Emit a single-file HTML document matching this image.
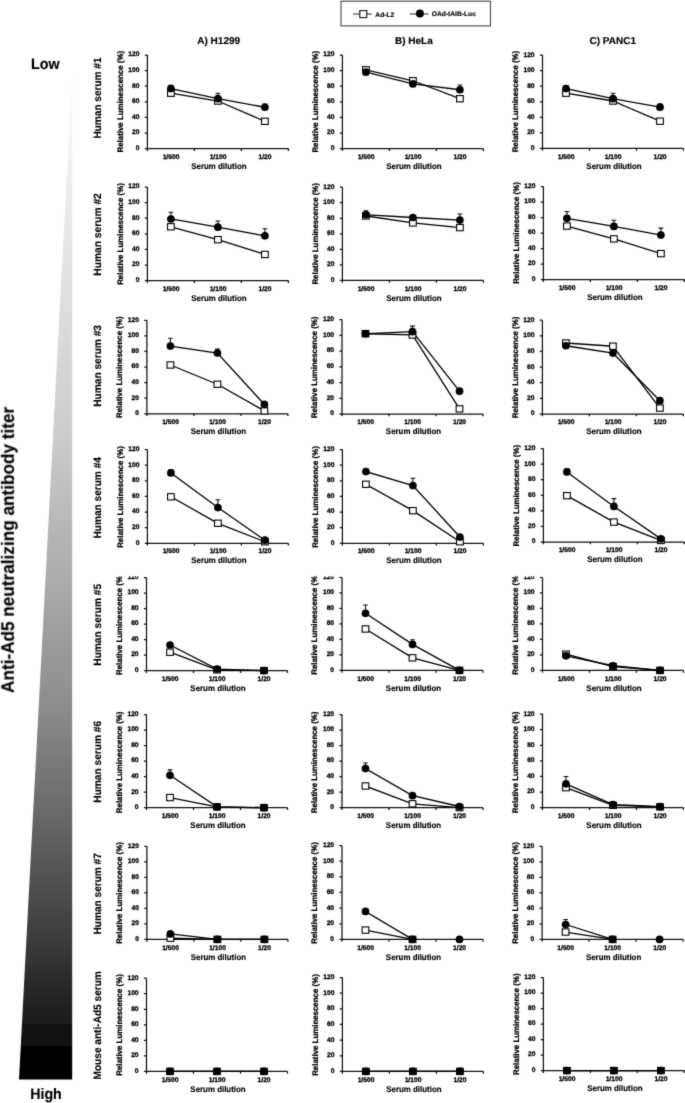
<!DOCTYPE html>
<html><head><meta charset="utf-8"><title>Figure</title>
<style>html,body{margin:0;padding:0;background:#fff;}svg{display:block;}text{text-rendering:geometricPrecision;font-family:"Liberation Sans", sans-serif;fill:#000;stroke:#000;stroke-width:0.15px;}.ax{stroke:#111;stroke-width:1.25;fill:none;}.ln{stroke:#000;stroke-width:1.3;fill:none;}.eb{stroke:#111;stroke-width:1.1;fill:none;}.sq{fill:#fff;stroke:#000;stroke-width:1.1;}.ci{fill:#000;}.tl{font-size:6.7px;font-weight:bold;stroke-width:0.3px;}.xt{font-size:8.3px;font-weight:bold;}.yt{font-size:8.1px;font-weight:bold;stroke-width:0.25px;}.rl{font-size:10.6px;font-weight:bold;}.ct{font-size:10px;font-weight:bold;}.lg{font-size:6.7px;font-weight:bold;}.big{font-size:18px;font-weight:bold;}.lh{font-size:15.2px;font-weight:bold;}</style></head><body>
<svg width="685" height="1103" viewBox="0 0 685 1103">
<filter id="bl" x="0" y="0" width="685" height="1103" filterUnits="userSpaceOnUse" color-interpolation-filters="sRGB"><feConvolveMatrix order="3" kernelMatrix="0.0144 0.0912 0.0144 0.0912 0.5776 0.0912 0.0144 0.0912 0.0144" divisor="1" edgeMode="duplicate" preserveAlpha="true"/></filter>
<g filter="url(#bl)">
<rect width="685" height="1103" fill="#fff"/>
<defs><linearGradient id="gw" gradientUnits="userSpaceOnUse" x1="0" y1="73" x2="0" y2="1079.5">
<stop offset="0.0000" stop-color="rgb(252,252,252)"/>
<stop offset="0.1262" stop-color="rgb(235,235,235)"/>
<stop offset="0.2305" stop-color="rgb(222,222,222)"/>
<stop offset="0.3646" stop-color="rgb(203,203,203)"/>
<stop offset="0.5037" stop-color="rgb(171,171,171)"/>
<stop offset="0.6230" stop-color="rgb(142,142,142)"/>
<stop offset="0.7322" stop-color="rgb(106,106,106)"/>
<stop offset="0.8713" stop-color="rgb(56,56,56)"/>
<stop offset="0.9111" stop-color="rgb(38,38,38)"/>
<stop offset="0.9160" stop-color="rgb(36,36,36)"/>
<stop offset="0.9280" stop-color="rgb(32,32,32)"/>
<stop offset="0.9445" stop-color="rgb(28,28,28)"/>
<stop offset="0.9445" stop-color="rgb(18,18,18)"/>
<stop offset="0.9667" stop-color="rgb(18,18,18)"/>
<stop offset="0.9667" stop-color="rgb(0,0,0)"/>
<stop offset="1.0000" stop-color="rgb(0,0,0)"/>
</linearGradient>
<clipPath id="c5"><rect x="0" y="576.5" width="685" height="200"/></clipPath>
</defs>
<path d="M72.2 73.4L72.2 1079.6L19 1079.6Z" fill="url(#gw)"/>
<text x="30.97" y="68.6" class="lh" textLength="28.52" lengthAdjust="spacingAndGlyphs">Low</text>
<text x="30.18" y="1098.6" class="lh" textLength="31.6" lengthAdjust="spacingAndGlyphs">High</text>
<text x="13.8" y="692.93" class="big" textLength="286.13" lengthAdjust="spacingAndGlyphs" transform="rotate(-90 13.8 692.93)">Anti-Ad5 neutralizing antibody titer</text>
<rect x="341" y="1.2" width="149.4" height="24.7" fill="none" stroke="#333" stroke-width="1"/>
<path d="M353.1 14H371.8M409.8 14H428.4" stroke="#222" stroke-width="1.1"/>
<rect x="359.8" y="10.6" width="7" height="7" fill="#fff" stroke="#111" stroke-width="1.1"/>
<circle cx="419.9" cy="13.6" r="4" fill="#000"/>
<text x="375.3" y="16.9" class="lg">Ad-L2</text>
<text x="431.7" y="16.2" class="lg">OAd-tAIB-Luc</text>
<text x="218.7" y="44.4" class="ct" text-anchor="middle">A) H1299</text>
<text x="413.9" y="44.4" class="ct" text-anchor="middle">B) HeLa</text>
<text x="612.7" y="44.4" class="ct" text-anchor="middle">C) PANC1</text>
<text x="100.9" y="138.55" class="rl" textLength="81.09" lengthAdjust="spacingAndGlyphs" transform="rotate(-90 100.9 138.55)">Human serum #1</text>
<text x="100.9" y="275.67" class="rl" textLength="82.46" lengthAdjust="spacingAndGlyphs" transform="rotate(-90 100.9 275.67)">Human serum #2</text>
<text x="100.9" y="406.76" class="rl" textLength="81.7" lengthAdjust="spacingAndGlyphs" transform="rotate(-90 100.9 406.76)">Human serum #3</text>
<text x="100.9" y="538.56" class="rl" textLength="81.49" lengthAdjust="spacingAndGlyphs" transform="rotate(-90 100.9 538.56)">Human serum #4</text>
<text x="100.9" y="665.66" class="rl" textLength="81.7" lengthAdjust="spacingAndGlyphs" transform="rotate(-90 100.9 665.66)">Human serum #5</text>
<text x="100.9" y="802.66" class="rl" textLength="81.7" lengthAdjust="spacingAndGlyphs" transform="rotate(-90 100.9 802.66)">Human serum #6</text>
<text x="100.9" y="934.46" class="rl" textLength="81.3" lengthAdjust="spacingAndGlyphs" transform="rotate(-90 100.9 934.46)">Human serum #7</text>
<text x="100.9" y="1079.46" class="rl" textLength="108.31" lengthAdjust="spacingAndGlyphs" transform="rotate(-90 100.9 1079.46)">Mouse anti-Ad5 serum</text>
<path d="M147.4 55V148.6H288.4" class="ax"/>
<path d="M144.8 148.6H147.4M144.8 133H147.4M144.8 117.4H147.4M144.8 101.8H147.4M144.8 86.2H147.4M144.8 70.6H147.4M144.8 55H147.4M147.4 148.6V150.9M194.4 148.6V150.9M241.4 148.6V150.9M288.4 148.6V150.9" class="ax"/>
<text x="139.5" y="150" class="tl" text-anchor="end">0</text>
<text x="139.5" y="134.4" class="tl" text-anchor="end">20</text>
<text x="139.5" y="118.8" class="tl" text-anchor="end">40</text>
<text x="139.5" y="103.2" class="tl" text-anchor="end">60</text>
<text x="139.5" y="87.6" class="tl" text-anchor="end">80</text>
<text x="139.5" y="72" class="tl" text-anchor="end">100</text>
<text x="139.5" y="56.4" class="tl" text-anchor="end">120</text>
<text x="171" y="158.7" class="tl" text-anchor="middle">1/500</text>
<text x="218" y="158.7" class="tl" text-anchor="middle">1/100</text>
<text x="265" y="158.7" class="tl" text-anchor="middle">1/20</text>
<text x="191.26" y="168.7" class="xt" textLength="55.31" lengthAdjust="spacingAndGlyphs">Serum dilution</text>
<text x="122.9" y="152.51" class="yt" textLength="101.6" lengthAdjust="spacingAndGlyphs" transform="rotate(-90 122.9 152.51)">Relative Luminescence (%)</text>
<path d="M170.9 88.54V85.42M168.5 85.42H173.3" class="eb"/>
<path d="M217.9 98.68V93.22M215.5 93.22H220.3" class="eb"/>
<path d="M264.9 107.26V104.14M262.5 104.14H267.3" class="eb"/>
<path d="M170.9 93.22L217.9 101.02L264.9 121.3" class="ln"/>
<path d="M170.9 88.54L217.9 98.68L264.9 107.26" class="ln"/>
<rect x="167.55" y="90.07" width="6.7" height="6.3" class="sq"/>
<rect x="214.55" y="97.87" width="6.7" height="6.3" class="sq"/>
<rect x="261.55" y="118.15" width="6.7" height="6.3" class="sq"/>
<circle cx="170.9" cy="88.54" r="3.85" class="ci"/>
<circle cx="217.9" cy="98.68" r="3.85" class="ci"/>
<circle cx="264.9" cy="107.26" r="3.85" class="ci"/>
<path d="M342.4 55V148.66H483.4" class="ax"/>
<path d="M339.8 148.66H342.4M339.8 133.05H342.4M339.8 117.44H342.4M339.8 101.83H342.4M339.8 86.22H342.4M339.8 70.61H342.4M339.8 55H342.4M342.4 148.66V150.96M389.4 148.66V150.96M436.4 148.66V150.96M483.4 148.66V150.96" class="ax"/>
<text x="334.5" y="150.06" class="tl" text-anchor="end">0</text>
<text x="334.5" y="134.45" class="tl" text-anchor="end">20</text>
<text x="334.5" y="118.84" class="tl" text-anchor="end">40</text>
<text x="334.5" y="103.23" class="tl" text-anchor="end">60</text>
<text x="334.5" y="87.62" class="tl" text-anchor="end">80</text>
<text x="334.5" y="72.01" class="tl" text-anchor="end">100</text>
<text x="334.5" y="56.4" class="tl" text-anchor="end">120</text>
<text x="366" y="158.76" class="tl" text-anchor="middle">1/500</text>
<text x="413" y="158.76" class="tl" text-anchor="middle">1/100</text>
<text x="460" y="158.76" class="tl" text-anchor="middle">1/20</text>
<text x="386.26" y="168.76" class="xt" textLength="55.31" lengthAdjust="spacingAndGlyphs">Serum dilution</text>
<text x="317.9" y="152.57" class="yt" textLength="101.6" lengthAdjust="spacingAndGlyphs" transform="rotate(-90 317.9 152.57)">Relative Luminescence (%)</text>
<path d="M459.9 89.73V85.05M457.5 85.05H462.3" class="eb"/>
<path d="M365.9 69.83L412.9 80.76L459.9 98.71" class="ln"/>
<path d="M365.9 72.17L412.9 83.88L459.9 89.73" class="ln"/>
<rect x="362.55" y="66.68" width="6.7" height="6.3" class="sq"/>
<rect x="409.55" y="77.61" width="6.7" height="6.3" class="sq"/>
<rect x="456.55" y="95.56" width="6.7" height="6.3" class="sq"/>
<circle cx="365.9" cy="72.17" r="3.85" class="ci"/>
<circle cx="412.9" cy="83.88" r="3.85" class="ci"/>
<circle cx="459.9" cy="89.73" r="3.85" class="ci"/>
<path d="M542.5 55.1V148.45H683.5" class="ax"/>
<path d="M539.9 148.45H542.5M539.9 132.89H542.5M539.9 117.33H542.5M539.9 101.77H542.5M539.9 86.22H542.5M539.9 70.66H542.5M539.9 55.1H542.5M542.5 148.45V150.75M589.5 148.45V150.75M636.5 148.45V150.75M683.5 148.45V150.75" class="ax"/>
<text x="534.6" y="149.85" class="tl" text-anchor="end">0</text>
<text x="534.6" y="134.29" class="tl" text-anchor="end">20</text>
<text x="534.6" y="118.73" class="tl" text-anchor="end">40</text>
<text x="534.6" y="103.17" class="tl" text-anchor="end">60</text>
<text x="534.6" y="87.62" class="tl" text-anchor="end">80</text>
<text x="534.6" y="72.06" class="tl" text-anchor="end">100</text>
<text x="534.6" y="56.5" class="tl" text-anchor="end">120</text>
<text x="566.1" y="158.55" class="tl" text-anchor="middle">1/500</text>
<text x="613.1" y="158.55" class="tl" text-anchor="middle">1/100</text>
<text x="660.1" y="158.55" class="tl" text-anchor="middle">1/20</text>
<text x="586.36" y="168.55" class="xt" textLength="55.31" lengthAdjust="spacingAndGlyphs">Serum dilution</text>
<text x="518" y="152.36" class="yt" textLength="101.6" lengthAdjust="spacingAndGlyphs" transform="rotate(-90 518 152.36)">Relative Luminescence (%)</text>
<path d="M566 88.55V85.44M563.6 85.44H568.4" class="eb"/>
<path d="M613 98.66V93.22M610.6 93.22H615.4" class="eb"/>
<path d="M660 107.22V104.11M657.6 104.11H662.4" class="eb"/>
<path d="M566 93.22L613 101L660 121.22" class="ln"/>
<path d="M566 88.55L613 98.66L660 107.22" class="ln"/>
<rect x="562.65" y="90.07" width="6.7" height="6.3" class="sq"/>
<rect x="609.65" y="97.85" width="6.7" height="6.3" class="sq"/>
<rect x="656.65" y="118.07" width="6.7" height="6.3" class="sq"/>
<circle cx="566" cy="88.55" r="3.85" class="ci"/>
<circle cx="613" cy="98.66" r="3.85" class="ci"/>
<circle cx="660" cy="107.22" r="3.85" class="ci"/>
<path d="M147.4 187V280.6H288.4" class="ax"/>
<path d="M144.8 280.6H147.4M144.8 265H147.4M144.8 249.4H147.4M144.8 233.8H147.4M144.8 218.2H147.4M144.8 202.6H147.4M144.8 187H147.4M147.4 280.6V282.9M194.4 280.6V282.9M241.4 280.6V282.9M288.4 280.6V282.9" class="ax"/>
<text x="139.5" y="282" class="tl" text-anchor="end">0</text>
<text x="139.5" y="266.4" class="tl" text-anchor="end">20</text>
<text x="139.5" y="250.8" class="tl" text-anchor="end">40</text>
<text x="139.5" y="235.2" class="tl" text-anchor="end">60</text>
<text x="139.5" y="219.6" class="tl" text-anchor="end">80</text>
<text x="139.5" y="204" class="tl" text-anchor="end">100</text>
<text x="139.5" y="188.4" class="tl" text-anchor="end">120</text>
<text x="171" y="290.7" class="tl" text-anchor="middle">1/500</text>
<text x="218" y="290.7" class="tl" text-anchor="middle">1/100</text>
<text x="265" y="290.7" class="tl" text-anchor="middle">1/20</text>
<text x="191.26" y="300.7" class="xt" textLength="55.31" lengthAdjust="spacingAndGlyphs">Serum dilution</text>
<text x="122.9" y="284.81" class="yt" textLength="101.6" lengthAdjust="spacingAndGlyphs" transform="rotate(-90 122.9 284.81)">Relative Luminescence (%)</text>
<path d="M170.9 218.98V212.19M168.5 212.19H173.3" class="eb"/>
<path d="M217.9 227.17V220.93M215.5 220.93H220.3" class="eb"/>
<path d="M264.9 235.83V228.81M262.5 228.81H267.3" class="eb"/>
<path d="M170.9 226.78L217.9 239.65L264.9 254.47" class="ln"/>
<path d="M170.9 218.98L217.9 227.17L264.9 235.83" class="ln"/>
<rect x="167.55" y="223.63" width="6.7" height="6.3" class="sq"/>
<rect x="214.55" y="236.5" width="6.7" height="6.3" class="sq"/>
<rect x="261.55" y="251.32" width="6.7" height="6.3" class="sq"/>
<circle cx="170.9" cy="218.98" r="3.85" class="ci"/>
<circle cx="217.9" cy="227.17" r="3.85" class="ci"/>
<circle cx="264.9" cy="235.83" r="3.85" class="ci"/>
<path d="M342.4 187.2V280.4H483.4" class="ax"/>
<path d="M339.8 280.4H342.4M339.8 264.87H342.4M339.8 249.33H342.4M339.8 233.8H342.4M339.8 218.27H342.4M339.8 202.73H342.4M339.8 187.2H342.4M342.4 280.4V282.7M389.4 280.4V282.7M436.4 280.4V282.7M483.4 280.4V282.7" class="ax"/>
<text x="334.5" y="281.8" class="tl" text-anchor="end">0</text>
<text x="334.5" y="266.27" class="tl" text-anchor="end">20</text>
<text x="334.5" y="250.73" class="tl" text-anchor="end">40</text>
<text x="334.5" y="235.2" class="tl" text-anchor="end">60</text>
<text x="334.5" y="219.67" class="tl" text-anchor="end">80</text>
<text x="334.5" y="204.13" class="tl" text-anchor="end">100</text>
<text x="334.5" y="188.6" class="tl" text-anchor="end">120</text>
<text x="366" y="290.5" class="tl" text-anchor="middle">1/500</text>
<text x="413" y="290.5" class="tl" text-anchor="middle">1/100</text>
<text x="460" y="290.5" class="tl" text-anchor="middle">1/20</text>
<text x="386.26" y="300.5" class="xt" textLength="55.31" lengthAdjust="spacingAndGlyphs">Serum dilution</text>
<text x="317.9" y="284.61" class="yt" textLength="101.6" lengthAdjust="spacingAndGlyphs" transform="rotate(-90 317.9 284.61)">Relative Luminescence (%)</text>
<path d="M365.9 214.77V210.89M363.5 210.89H368.3" class="eb"/>
<path d="M459.9 220.05V214.07M457.5 214.07H462.3" class="eb"/>
<path d="M365.9 215.94L412.9 222.93L459.9 227.59" class="ln"/>
<path d="M365.9 214.77L412.9 217.49L459.9 220.05" class="ln"/>
<rect x="362.55" y="212.79" width="6.7" height="6.3" class="sq"/>
<rect x="409.55" y="219.78" width="6.7" height="6.3" class="sq"/>
<rect x="456.55" y="224.44" width="6.7" height="6.3" class="sq"/>
<circle cx="365.9" cy="214.77" r="3.85" class="ci"/>
<circle cx="412.9" cy="217.49" r="3.85" class="ci"/>
<circle cx="459.9" cy="220.05" r="3.85" class="ci"/>
<path d="M543.4 186.5V279.6H684.4" class="ax"/>
<path d="M540.8 279.6H543.4M540.8 264.08H543.4M540.8 248.57H543.4M540.8 233.05H543.4M540.8 217.53H543.4M540.8 202.02H543.4M540.8 186.5H543.4M543.4 279.6V281.9M590.4 279.6V281.9M637.4 279.6V281.9M684.4 279.6V281.9" class="ax"/>
<text x="535.5" y="281" class="tl" text-anchor="end">0</text>
<text x="535.5" y="265.48" class="tl" text-anchor="end">20</text>
<text x="535.5" y="249.97" class="tl" text-anchor="end">40</text>
<text x="535.5" y="234.45" class="tl" text-anchor="end">60</text>
<text x="535.5" y="218.93" class="tl" text-anchor="end">80</text>
<text x="535.5" y="203.42" class="tl" text-anchor="end">100</text>
<text x="535.5" y="187.9" class="tl" text-anchor="end">120</text>
<text x="567" y="289.7" class="tl" text-anchor="middle">1/500</text>
<text x="614" y="289.7" class="tl" text-anchor="middle">1/100</text>
<text x="661" y="289.7" class="tl" text-anchor="middle">1/20</text>
<text x="587.26" y="299.7" class="xt" textLength="55.31" lengthAdjust="spacingAndGlyphs">Serum dilution</text>
<text x="518.9" y="283.81" class="yt" textLength="101.6" lengthAdjust="spacingAndGlyphs" transform="rotate(-90 518.9 283.81)">Relative Luminescence (%)</text>
<path d="M566.9 218.31V211.56M564.5 211.56H569.3" class="eb"/>
<path d="M613.9 226.46V220.25M611.5 220.25H616.3" class="eb"/>
<path d="M660.9 235.07V228.08M658.5 228.08H663.3" class="eb"/>
<path d="M566.9 226.07L613.9 238.87L660.9 253.61" class="ln"/>
<path d="M566.9 218.31L613.9 226.46L660.9 235.07" class="ln"/>
<rect x="563.55" y="222.92" width="6.7" height="6.3" class="sq"/>
<rect x="610.55" y="235.72" width="6.7" height="6.3" class="sq"/>
<rect x="657.55" y="250.46" width="6.7" height="6.3" class="sq"/>
<circle cx="566.9" cy="218.31" r="3.85" class="ci"/>
<circle cx="613.9" cy="226.46" r="3.85" class="ci"/>
<circle cx="660.9" cy="235.07" r="3.85" class="ci"/>
<path d="M146.9 320.25V413.8H287.9" class="ax"/>
<path d="M144.3 413.8H146.9M144.3 398.21H146.9M144.3 382.62H146.9M144.3 367.02H146.9M144.3 351.43H146.9M144.3 335.84H146.9M144.3 320.25H146.9M146.9 413.8V416.1M193.9 413.8V416.1M240.9 413.8V416.1M287.9 413.8V416.1" class="ax"/>
<text x="139" y="415.2" class="tl" text-anchor="end">0</text>
<text x="139" y="399.61" class="tl" text-anchor="end">20</text>
<text x="139" y="384.02" class="tl" text-anchor="end">40</text>
<text x="139" y="368.42" class="tl" text-anchor="end">60</text>
<text x="139" y="352.83" class="tl" text-anchor="end">80</text>
<text x="139" y="337.24" class="tl" text-anchor="end">100</text>
<text x="139" y="321.65" class="tl" text-anchor="end">120</text>
<text x="170.5" y="423.9" class="tl" text-anchor="middle">1/500</text>
<text x="217.5" y="423.9" class="tl" text-anchor="middle">1/100</text>
<text x="264.5" y="423.9" class="tl" text-anchor="middle">1/20</text>
<text x="190.76" y="433.9" class="xt" textLength="55.31" lengthAdjust="spacingAndGlyphs">Serum dilution</text>
<text x="122.4" y="418.01" class="yt" textLength="101.6" lengthAdjust="spacingAndGlyphs" transform="rotate(-90 122.4 418.01)">Relative Luminescence (%)</text>
<path d="M170.4 346.05V338.26M168 338.26H172.8" class="eb"/>
<path d="M217.4 352.99V349.09M215 349.09H219.8" class="eb"/>
<path d="M264.4 404.44V402.11M262 402.11H266.8" class="eb"/>
<path d="M170.4 365L217.4 384.25L264.4 410.92" class="ln"/>
<path d="M170.4 346.05L217.4 352.99L264.4 404.44" class="ln"/>
<rect x="167.05" y="361.85" width="6.7" height="6.3" class="sq"/>
<rect x="214.05" y="381.1" width="6.7" height="6.3" class="sq"/>
<rect x="261.05" y="407.77" width="6.7" height="6.3" class="sq"/>
<circle cx="170.4" cy="346.05" r="3.85" class="ci"/>
<circle cx="217.4" cy="352.99" r="3.85" class="ci"/>
<circle cx="264.4" cy="404.44" r="3.85" class="ci"/>
<path d="M342 319.5V414H483" class="ax"/>
<path d="M339.4 414H342M339.4 398.25H342M339.4 382.5H342M339.4 366.75H342M339.4 351H342M339.4 335.25H342M339.4 319.5H342M342 414V416.3M389 414V416.3M436 414V416.3M483 414V416.3" class="ax"/>
<text x="334.1" y="415.4" class="tl" text-anchor="end">0</text>
<text x="334.1" y="399.65" class="tl" text-anchor="end">20</text>
<text x="334.1" y="383.9" class="tl" text-anchor="end">40</text>
<text x="334.1" y="368.15" class="tl" text-anchor="end">60</text>
<text x="334.1" y="352.4" class="tl" text-anchor="end">80</text>
<text x="334.1" y="336.65" class="tl" text-anchor="end">100</text>
<text x="334.1" y="320.9" class="tl" text-anchor="end">120</text>
<text x="365.6" y="424.1" class="tl" text-anchor="middle">1/500</text>
<text x="412.6" y="424.1" class="tl" text-anchor="middle">1/100</text>
<text x="459.6" y="424.1" class="tl" text-anchor="middle">1/20</text>
<text x="385.86" y="434.1" class="xt" textLength="55.31" lengthAdjust="spacingAndGlyphs">Serum dilution</text>
<text x="317.5" y="418.21" class="yt" textLength="101.6" lengthAdjust="spacingAndGlyphs" transform="rotate(-90 317.5 418.21)">Relative Luminescence (%)</text>
<path d="M412.5 331.63V326.12M410.1 326.12H414.9" class="eb"/>
<path d="M365.5 333.68L412.5 334.94L459.5 408.88" class="ln"/>
<path d="M365.5 333.68L412.5 331.63L459.5 391.16" class="ln"/>
<rect x="362.15" y="330.53" width="6.7" height="6.3" class="sq"/>
<rect x="409.15" y="331.79" width="6.7" height="6.3" class="sq"/>
<rect x="456.15" y="405.73" width="6.7" height="6.3" class="sq"/>
<circle cx="365.5" cy="333.68" r="3.85" class="ci"/>
<circle cx="412.5" cy="331.63" r="3.85" class="ci"/>
<circle cx="459.5" cy="391.16" r="3.85" class="ci"/>
<path d="M542.4 320.2V414H683.4" class="ax"/>
<path d="M539.8 414H542.4M539.8 398.37H542.4M539.8 382.73H542.4M539.8 367.1H542.4M539.8 351.47H542.4M539.8 335.83H542.4M539.8 320.2H542.4M542.4 414V416.3M589.4 414V416.3M636.4 414V416.3M683.4 414V416.3" class="ax"/>
<text x="534.5" y="415.4" class="tl" text-anchor="end">0</text>
<text x="534.5" y="399.77" class="tl" text-anchor="end">20</text>
<text x="534.5" y="384.13" class="tl" text-anchor="end">40</text>
<text x="534.5" y="368.5" class="tl" text-anchor="end">60</text>
<text x="534.5" y="352.87" class="tl" text-anchor="end">80</text>
<text x="534.5" y="337.23" class="tl" text-anchor="end">100</text>
<text x="534.5" y="321.6" class="tl" text-anchor="end">120</text>
<text x="566" y="424.1" class="tl" text-anchor="middle">1/500</text>
<text x="613" y="424.1" class="tl" text-anchor="middle">1/100</text>
<text x="660" y="424.1" class="tl" text-anchor="middle">1/20</text>
<text x="586.26" y="434.1" class="xt" textLength="55.31" lengthAdjust="spacingAndGlyphs">Serum dilution</text>
<text x="517.9" y="418.21" class="yt" textLength="101.6" lengthAdjust="spacingAndGlyphs" transform="rotate(-90 517.9 418.21)">Relative Luminescence (%)</text>
<path d="M565.9 343.02L612.9 346.23L659.9 408.06" class="ln"/>
<path d="M565.9 345.76L612.9 353.03L659.9 400.71" class="ln"/>
<rect x="562.55" y="339.87" width="6.7" height="6.3" class="sq"/>
<rect x="609.55" y="343.08" width="6.7" height="6.3" class="sq"/>
<rect x="656.55" y="404.91" width="6.7" height="6.3" class="sq"/>
<circle cx="565.9" cy="345.76" r="3.85" class="ci"/>
<circle cx="612.9" cy="353.03" r="3.85" class="ci"/>
<circle cx="659.9" cy="400.71" r="3.85" class="ci"/>
<path d="M147.4 449.5V543.3H288.4" class="ax"/>
<path d="M144.8 543.3H147.4M144.8 527.67H147.4M144.8 512.03H147.4M144.8 496.4H147.4M144.8 480.77H147.4M144.8 465.13H147.4M144.8 449.5H147.4M147.4 543.3V545.6M194.4 543.3V545.6M241.4 543.3V545.6M288.4 543.3V545.6" class="ax"/>
<text x="139.5" y="544.7" class="tl" text-anchor="end">0</text>
<text x="139.5" y="529.07" class="tl" text-anchor="end">20</text>
<text x="139.5" y="513.43" class="tl" text-anchor="end">40</text>
<text x="139.5" y="497.8" class="tl" text-anchor="end">60</text>
<text x="139.5" y="482.17" class="tl" text-anchor="end">80</text>
<text x="139.5" y="466.53" class="tl" text-anchor="end">100</text>
<text x="139.5" y="450.9" class="tl" text-anchor="end">120</text>
<text x="171" y="553.4" class="tl" text-anchor="middle">1/500</text>
<text x="218" y="553.4" class="tl" text-anchor="middle">1/100</text>
<text x="265" y="553.4" class="tl" text-anchor="middle">1/20</text>
<text x="191.26" y="563.4" class="xt" textLength="55.31" lengthAdjust="spacingAndGlyphs">Serum dilution</text>
<text x="122.9" y="547.81" class="yt" textLength="101.6" lengthAdjust="spacingAndGlyphs" transform="rotate(-90 122.9 547.81)">Relative Luminescence (%)</text>
<path d="M170.9 472.95V469.82M168.5 469.82H173.3" class="eb"/>
<path d="M217.9 507.58V499.76M215.5 499.76H220.3" class="eb"/>
<path d="M170.9 496.79L217.9 523.29L264.9 541.74" class="ln"/>
<path d="M170.9 472.95L217.9 507.58L264.9 540.17" class="ln"/>
<rect x="167.55" y="493.64" width="6.7" height="6.3" class="sq"/>
<rect x="214.55" y="520.14" width="6.7" height="6.3" class="sq"/>
<rect x="261.55" y="538.59" width="6.7" height="6.3" class="sq"/>
<circle cx="170.9" cy="472.95" r="3.85" class="ci"/>
<circle cx="217.9" cy="507.58" r="3.85" class="ci"/>
<circle cx="264.9" cy="540.17" r="3.85" class="ci"/>
<path d="M342.4 449.6V543.3H483.4" class="ax"/>
<path d="M339.8 543.3H342.4M339.8 527.68H342.4M339.8 512.07H342.4M339.8 496.45H342.4M339.8 480.83H342.4M339.8 465.22H342.4M339.8 449.6H342.4M342.4 543.3V545.6M389.4 543.3V545.6M436.4 543.3V545.6M483.4 543.3V545.6" class="ax"/>
<text x="334.5" y="544.7" class="tl" text-anchor="end">0</text>
<text x="334.5" y="529.08" class="tl" text-anchor="end">20</text>
<text x="334.5" y="513.47" class="tl" text-anchor="end">40</text>
<text x="334.5" y="497.85" class="tl" text-anchor="end">60</text>
<text x="334.5" y="482.23" class="tl" text-anchor="end">80</text>
<text x="334.5" y="466.62" class="tl" text-anchor="end">100</text>
<text x="334.5" y="451" class="tl" text-anchor="end">120</text>
<text x="366" y="553.4" class="tl" text-anchor="middle">1/500</text>
<text x="413" y="553.4" class="tl" text-anchor="middle">1/100</text>
<text x="460" y="553.4" class="tl" text-anchor="middle">1/20</text>
<text x="386.26" y="563.4" class="xt" textLength="55.31" lengthAdjust="spacingAndGlyphs">Serum dilution</text>
<text x="317.9" y="547.81" class="yt" textLength="101.6" lengthAdjust="spacingAndGlyphs" transform="rotate(-90 317.9 547.81)">Relative Luminescence (%)</text>
<path d="M412.9 485.6V478.18M410.5 478.18H415.3" class="eb"/>
<path d="M459.9 537.05V535.49M457.5 535.49H462.3" class="eb"/>
<path d="M365.9 484.27L412.9 510.66L459.9 541.74" class="ln"/>
<path d="M365.9 471.62L412.9 485.6L459.9 537.05" class="ln"/>
<rect x="362.55" y="481.12" width="6.7" height="6.3" class="sq"/>
<rect x="409.55" y="507.51" width="6.7" height="6.3" class="sq"/>
<rect x="456.55" y="538.59" width="6.7" height="6.3" class="sq"/>
<circle cx="365.9" cy="471.62" r="3.85" class="ci"/>
<circle cx="412.9" cy="485.6" r="3.85" class="ci"/>
<circle cx="459.9" cy="537.05" r="3.85" class="ci"/>
<path d="M543.4 448.6V542H684.4" class="ax"/>
<path d="M540.8 542H543.4M540.8 526.43H543.4M540.8 510.87H543.4M540.8 495.3H543.4M540.8 479.73H543.4M540.8 464.17H543.4M540.8 448.6H543.4M543.4 542V544.3M590.4 542V544.3M637.4 542V544.3M684.4 542V544.3" class="ax"/>
<text x="535.5" y="543.4" class="tl" text-anchor="end">0</text>
<text x="535.5" y="527.83" class="tl" text-anchor="end">20</text>
<text x="535.5" y="512.27" class="tl" text-anchor="end">40</text>
<text x="535.5" y="496.7" class="tl" text-anchor="end">60</text>
<text x="535.5" y="481.13" class="tl" text-anchor="end">80</text>
<text x="535.5" y="465.57" class="tl" text-anchor="end">100</text>
<text x="535.5" y="450" class="tl" text-anchor="end">120</text>
<text x="567" y="552.1" class="tl" text-anchor="middle">1/500</text>
<text x="614" y="552.1" class="tl" text-anchor="middle">1/100</text>
<text x="661" y="552.1" class="tl" text-anchor="middle">1/20</text>
<text x="587.26" y="562.1" class="xt" textLength="55.31" lengthAdjust="spacingAndGlyphs">Serum dilution</text>
<text x="518.9" y="546.51" class="yt" textLength="101.6" lengthAdjust="spacingAndGlyphs" transform="rotate(-90 518.9 546.51)">Relative Luminescence (%)</text>
<path d="M566.9 471.95V468.84M564.5 468.84H569.3" class="eb"/>
<path d="M613.9 506.43V498.65M611.5 498.65H616.3" class="eb"/>
<path d="M566.9 495.69L613.9 522.07L660.9 540.44" class="ln"/>
<path d="M566.9 471.95L613.9 506.43L660.9 538.89" class="ln"/>
<rect x="563.55" y="492.54" width="6.7" height="6.3" class="sq"/>
<rect x="610.55" y="518.92" width="6.7" height="6.3" class="sq"/>
<rect x="657.55" y="537.29" width="6.7" height="6.3" class="sq"/>
<circle cx="566.9" cy="471.95" r="3.85" class="ci"/>
<circle cx="613.9" cy="506.43" r="3.85" class="ci"/>
<circle cx="660.9" cy="538.89" r="3.85" class="ci"/>
<g clip-path="url(#c5)">
<path d="M146.5 577.5V670.6H287.5" class="ax"/>
<path d="M143.9 670.6H146.5M143.9 655.08H146.5M143.9 639.57H146.5M143.9 624.05H146.5M143.9 608.53H146.5M143.9 593.02H146.5M143.9 577.5H146.5M146.5 670.6V672.9M193.5 670.6V672.9M240.5 670.6V672.9M287.5 670.6V672.9" class="ax"/>
<text x="138.6" y="672" class="tl" text-anchor="end">0</text>
<text x="138.6" y="656.48" class="tl" text-anchor="end">20</text>
<text x="138.6" y="640.97" class="tl" text-anchor="end">40</text>
<text x="138.6" y="625.45" class="tl" text-anchor="end">60</text>
<text x="138.6" y="609.93" class="tl" text-anchor="end">80</text>
<text x="138.6" y="594.42" class="tl" text-anchor="end">100</text>
<text x="138.6" y="578.9" class="tl" text-anchor="end">120</text>
<text x="170.1" y="680.7" class="tl" text-anchor="middle">1/500</text>
<text x="217.1" y="680.7" class="tl" text-anchor="middle">1/100</text>
<text x="264.1" y="680.7" class="tl" text-anchor="middle">1/20</text>
<text x="190.36" y="690.7" class="xt" textLength="55.31" lengthAdjust="spacingAndGlyphs">Serum dilution</text>
<text x="122" y="675.01" class="yt" textLength="101.6" lengthAdjust="spacingAndGlyphs" transform="rotate(-90 122 675.01)">Relative Luminescence (%)</text>
<path d="M170 652.21L217 669.82L264 670.6" class="ln"/>
<path d="M170 645L217 669.05L264 670.6" class="ln"/>
<rect x="166.65" y="649.06" width="6.7" height="6.3" class="sq"/>
<rect x="213.65" y="666.67" width="6.7" height="6.3" class="sq"/>
<rect x="260.65" y="667.45" width="6.7" height="6.3" class="sq"/>
<circle cx="170" cy="645" r="3.85" class="ci"/>
<circle cx="217" cy="669.05" r="3.85" class="ci"/>
<circle cx="264" cy="670.6" r="3.85" class="ci"/>
<path d="M342 577.3V670.4H483" class="ax"/>
<path d="M339.4 670.4H342M339.4 654.88H342M339.4 639.37H342M339.4 623.85H342M339.4 608.33H342M339.4 592.82H342M339.4 577.3H342M342 670.4V672.7M389 670.4V672.7M436 670.4V672.7M483 670.4V672.7" class="ax"/>
<text x="334.1" y="671.8" class="tl" text-anchor="end">0</text>
<text x="334.1" y="656.28" class="tl" text-anchor="end">20</text>
<text x="334.1" y="640.77" class="tl" text-anchor="end">40</text>
<text x="334.1" y="625.25" class="tl" text-anchor="end">60</text>
<text x="334.1" y="609.73" class="tl" text-anchor="end">80</text>
<text x="334.1" y="594.22" class="tl" text-anchor="end">100</text>
<text x="334.1" y="578.7" class="tl" text-anchor="end">120</text>
<text x="365.6" y="680.5" class="tl" text-anchor="middle">1/500</text>
<text x="412.6" y="680.5" class="tl" text-anchor="middle">1/100</text>
<text x="459.6" y="680.5" class="tl" text-anchor="middle">1/20</text>
<text x="385.86" y="690.5" class="xt" textLength="55.31" lengthAdjust="spacingAndGlyphs">Serum dilution</text>
<text x="317.5" y="674.81" class="yt" textLength="101.6" lengthAdjust="spacingAndGlyphs" transform="rotate(-90 317.5 674.81)">Relative Luminescence (%)</text>
<path d="M365.5 613.3V605M363.1 605H367.9" class="eb"/>
<path d="M412.5 644.41V639.75M410.1 639.75H414.9" class="eb"/>
<path d="M365.5 628.97L412.5 657.83L459.5 670.4" class="ln"/>
<path d="M365.5 613.3L412.5 644.41L459.5 670.4" class="ln"/>
<rect x="362.15" y="625.82" width="6.7" height="6.3" class="sq"/>
<rect x="409.15" y="654.68" width="6.7" height="6.3" class="sq"/>
<rect x="456.15" y="667.25" width="6.7" height="6.3" class="sq"/>
<circle cx="365.5" cy="613.3" r="3.85" class="ci"/>
<circle cx="412.5" cy="644.41" r="3.85" class="ci"/>
<circle cx="459.5" cy="670.4" r="3.85" class="ci"/>
<path d="M542.5 577.4V670.4H683.5" class="ax"/>
<path d="M539.9 670.4H542.5M539.9 654.9H542.5M539.9 639.4H542.5M539.9 623.9H542.5M539.9 608.4H542.5M539.9 592.9H542.5M539.9 577.4H542.5M542.5 670.4V672.7M589.5 670.4V672.7M636.5 670.4V672.7M683.5 670.4V672.7" class="ax"/>
<text x="534.6" y="671.8" class="tl" text-anchor="end">0</text>
<text x="534.6" y="656.3" class="tl" text-anchor="end">20</text>
<text x="534.6" y="640.8" class="tl" text-anchor="end">40</text>
<text x="534.6" y="625.3" class="tl" text-anchor="end">60</text>
<text x="534.6" y="609.8" class="tl" text-anchor="end">80</text>
<text x="534.6" y="594.3" class="tl" text-anchor="end">100</text>
<text x="534.6" y="578.8" class="tl" text-anchor="end">120</text>
<text x="566.1" y="680.5" class="tl" text-anchor="middle">1/500</text>
<text x="613.1" y="680.5" class="tl" text-anchor="middle">1/100</text>
<text x="660.1" y="680.5" class="tl" text-anchor="middle">1/20</text>
<text x="586.36" y="690.5" class="xt" textLength="55.31" lengthAdjust="spacingAndGlyphs">Serum dilution</text>
<text x="518" y="674.81" class="yt" textLength="101.6" lengthAdjust="spacingAndGlyphs" transform="rotate(-90 518 674.81)">Relative Luminescence (%)</text>
<path d="M566 654.12L613 666.52L660 670.4" class="ln"/>
<path d="M566 655.83L613 665.75L660 670.4" class="ln"/>
<rect x="562.65" y="650.98" width="6.7" height="6.3" class="sq"/>
<rect x="609.65" y="663.38" width="6.7" height="6.3" class="sq"/>
<rect x="656.65" y="667.25" width="6.7" height="6.3" class="sq"/>
<circle cx="566" cy="655.83" r="3.85" class="ci"/>
<circle cx="613" cy="665.75" r="3.85" class="ci"/>
<circle cx="660" cy="670.4" r="3.85" class="ci"/>
</g>
<path d="M146.5 714.5V807.66H287.5" class="ax"/>
<path d="M143.9 807.66H146.5M143.9 792.13H146.5M143.9 776.61H146.5M143.9 761.08H146.5M143.9 745.55H146.5M143.9 730.03H146.5M143.9 714.5H146.5M146.5 807.66V809.96M193.5 807.66V809.96M240.5 807.66V809.96M287.5 807.66V809.96" class="ax"/>
<text x="138.6" y="809.06" class="tl" text-anchor="end">0</text>
<text x="138.6" y="793.53" class="tl" text-anchor="end">20</text>
<text x="138.6" y="778.01" class="tl" text-anchor="end">40</text>
<text x="138.6" y="762.48" class="tl" text-anchor="end">60</text>
<text x="138.6" y="746.95" class="tl" text-anchor="end">80</text>
<text x="138.6" y="731.43" class="tl" text-anchor="end">100</text>
<text x="138.6" y="715.9" class="tl" text-anchor="end">120</text>
<text x="170.1" y="817.76" class="tl" text-anchor="middle">1/500</text>
<text x="217.1" y="817.76" class="tl" text-anchor="middle">1/100</text>
<text x="264.1" y="817.76" class="tl" text-anchor="middle">1/20</text>
<text x="190.36" y="827.76" class="xt" textLength="55.31" lengthAdjust="spacingAndGlyphs">Serum dilution</text>
<text x="122" y="813.17" class="yt" textLength="101.6" lengthAdjust="spacingAndGlyphs" transform="rotate(-90 122 813.17)">Relative Luminescence (%)</text>
<path d="M170 775.29V769.85M167.6 769.85H172.4" class="eb"/>
<path d="M170 797.57L217 806.88L264 807.66" class="ln"/>
<path d="M170 775.29L217 806.88L264 807.66" class="ln"/>
<rect x="166.65" y="794.42" width="6.7" height="6.3" class="sq"/>
<rect x="213.65" y="803.73" width="6.7" height="6.3" class="sq"/>
<rect x="260.65" y="804.51" width="6.7" height="6.3" class="sq"/>
<circle cx="170" cy="775.29" r="3.85" class="ci"/>
<circle cx="217" cy="806.88" r="3.85" class="ci"/>
<circle cx="264" cy="807.66" r="3.85" class="ci"/>
<path d="M342 714.5V807.66H483" class="ax"/>
<path d="M339.4 807.66H342M339.4 792.13H342M339.4 776.61H342M339.4 761.08H342M339.4 745.55H342M339.4 730.03H342M339.4 714.5H342M342 807.66V809.96M389 807.66V809.96M436 807.66V809.96M483 807.66V809.96" class="ax"/>
<text x="334.1" y="809.06" class="tl" text-anchor="end">0</text>
<text x="334.1" y="793.53" class="tl" text-anchor="end">20</text>
<text x="334.1" y="778.01" class="tl" text-anchor="end">40</text>
<text x="334.1" y="762.48" class="tl" text-anchor="end">60</text>
<text x="334.1" y="746.95" class="tl" text-anchor="end">80</text>
<text x="334.1" y="731.43" class="tl" text-anchor="end">100</text>
<text x="334.1" y="715.9" class="tl" text-anchor="end">120</text>
<text x="365.6" y="817.76" class="tl" text-anchor="middle">1/500</text>
<text x="412.6" y="817.76" class="tl" text-anchor="middle">1/100</text>
<text x="459.6" y="817.76" class="tl" text-anchor="middle">1/20</text>
<text x="385.86" y="827.76" class="xt" textLength="55.31" lengthAdjust="spacingAndGlyphs">Serum dilution</text>
<text x="317.5" y="813.17" class="yt" textLength="101.6" lengthAdjust="spacingAndGlyphs" transform="rotate(-90 317.5 813.17)">Relative Luminescence (%)</text>
<path d="M365.5 768.61V762.94M363.1 762.94H367.9" class="eb"/>
<path d="M365.5 786L412.5 803.78L459.5 807.66" class="ln"/>
<path d="M365.5 768.61L412.5 795.63L459.5 806.5" class="ln"/>
<rect x="362.15" y="782.85" width="6.7" height="6.3" class="sq"/>
<rect x="409.15" y="800.63" width="6.7" height="6.3" class="sq"/>
<rect x="456.15" y="804.51" width="6.7" height="6.3" class="sq"/>
<circle cx="365.5" cy="768.61" r="3.85" class="ci"/>
<circle cx="412.5" cy="795.63" r="3.85" class="ci"/>
<circle cx="459.5" cy="806.5" r="3.85" class="ci"/>
<path d="M542.5 714.1V807.66H683.5" class="ax"/>
<path d="M539.9 807.66H542.5M539.9 792.07H542.5M539.9 776.47H542.5M539.9 760.88H542.5M539.9 745.29H542.5M539.9 729.69H542.5M539.9 714.1H542.5M542.5 807.66V809.96M589.5 807.66V809.96M636.5 807.66V809.96M683.5 807.66V809.96" class="ax"/>
<text x="534.6" y="809.06" class="tl" text-anchor="end">0</text>
<text x="534.6" y="793.47" class="tl" text-anchor="end">20</text>
<text x="534.6" y="777.87" class="tl" text-anchor="end">40</text>
<text x="534.6" y="762.28" class="tl" text-anchor="end">60</text>
<text x="534.6" y="746.69" class="tl" text-anchor="end">80</text>
<text x="534.6" y="731.09" class="tl" text-anchor="end">100</text>
<text x="534.6" y="715.5" class="tl" text-anchor="end">120</text>
<text x="566.1" y="817.76" class="tl" text-anchor="middle">1/500</text>
<text x="613.1" y="817.76" class="tl" text-anchor="middle">1/100</text>
<text x="660.1" y="817.76" class="tl" text-anchor="middle">1/20</text>
<text x="586.36" y="827.76" class="xt" textLength="55.31" lengthAdjust="spacingAndGlyphs">Serum dilution</text>
<text x="518" y="813.17" class="yt" textLength="101.6" lengthAdjust="spacingAndGlyphs" transform="rotate(-90 518 813.17)">Relative Luminescence (%)</text>
<path d="M566 783.8V776.55M563.6 776.55H568.4" class="eb"/>
<path d="M566 787.62L613 805.32L660 806.88" class="ln"/>
<path d="M566 783.8L613 804.54L660 806.65" class="ln"/>
<rect x="562.65" y="784.47" width="6.7" height="6.3" class="sq"/>
<rect x="609.65" y="802.17" width="6.7" height="6.3" class="sq"/>
<rect x="656.65" y="803.73" width="6.7" height="6.3" class="sq"/>
<circle cx="566" cy="783.8" r="3.85" class="ci"/>
<circle cx="613" cy="804.54" r="3.85" class="ci"/>
<circle cx="660" cy="806.65" r="3.85" class="ci"/>
<path d="M146.9 846.25V939.4H287.9" class="ax"/>
<path d="M144.3 939.4H146.9M144.3 923.88H146.9M144.3 908.35H146.9M144.3 892.83H146.9M144.3 877.3H146.9M144.3 861.77H146.9M144.3 846.25H146.9M146.9 939.4V941.7M193.9 939.4V941.7M240.9 939.4V941.7M287.9 939.4V941.7" class="ax"/>
<text x="139" y="940.8" class="tl" text-anchor="end">0</text>
<text x="139" y="925.27" class="tl" text-anchor="end">20</text>
<text x="139" y="909.75" class="tl" text-anchor="end">40</text>
<text x="139" y="894.23" class="tl" text-anchor="end">60</text>
<text x="139" y="878.7" class="tl" text-anchor="end">80</text>
<text x="139" y="863.17" class="tl" text-anchor="end">100</text>
<text x="139" y="847.65" class="tl" text-anchor="end">120</text>
<text x="170.5" y="949.5" class="tl" text-anchor="middle">1/500</text>
<text x="217.5" y="949.5" class="tl" text-anchor="middle">1/100</text>
<text x="264.5" y="949.5" class="tl" text-anchor="middle">1/20</text>
<text x="190.76" y="959.5" class="xt" textLength="55.31" lengthAdjust="spacingAndGlyphs">Serum dilution</text>
<text x="122.4" y="943.81" class="yt" textLength="101.6" lengthAdjust="spacingAndGlyphs" transform="rotate(-90 122.4 943.81)">Relative Luminescence (%)</text>
<path d="M170.4 933.97V932.41M168 932.41H172.8" class="eb"/>
<path d="M170.4 938.24L217.4 939.4L264.4 939.4" class="ln"/>
<path d="M170.4 933.97L217.4 939.4L264.4 939.4" class="ln"/>
<rect x="167.05" y="935.09" width="6.7" height="6.3" class="sq"/>
<rect x="214.05" y="936.25" width="6.7" height="6.3" class="sq"/>
<rect x="261.05" y="936.25" width="6.7" height="6.3" class="sq"/>
<circle cx="170.4" cy="933.97" r="3.85" class="ci"/>
<circle cx="217.4" cy="939.4" r="3.85" class="ci"/>
<circle cx="264.4" cy="939.4" r="3.85" class="ci"/>
<path d="M342 845.5V939.4H483" class="ax"/>
<path d="M339.4 939.4H342M339.4 923.75H342M339.4 908.1H342M339.4 892.45H342M339.4 876.8H342M339.4 861.15H342M339.4 845.5H342M342 939.4V941.7M389 939.4V941.7M436 939.4V941.7M483 939.4V941.7" class="ax"/>
<text x="334.1" y="940.8" class="tl" text-anchor="end">0</text>
<text x="334.1" y="925.15" class="tl" text-anchor="end">20</text>
<text x="334.1" y="909.5" class="tl" text-anchor="end">40</text>
<text x="334.1" y="893.85" class="tl" text-anchor="end">60</text>
<text x="334.1" y="878.2" class="tl" text-anchor="end">80</text>
<text x="334.1" y="862.55" class="tl" text-anchor="end">100</text>
<text x="334.1" y="846.9" class="tl" text-anchor="end">120</text>
<text x="365.6" y="949.5" class="tl" text-anchor="middle">1/500</text>
<text x="412.6" y="949.5" class="tl" text-anchor="middle">1/100</text>
<text x="459.6" y="949.5" class="tl" text-anchor="middle">1/20</text>
<text x="385.86" y="959.5" class="xt" textLength="55.31" lengthAdjust="spacingAndGlyphs">Serum dilution</text>
<text x="317.5" y="943.81" class="yt" textLength="101.6" lengthAdjust="spacingAndGlyphs" transform="rotate(-90 317.5 943.81)">Relative Luminescence (%)</text>
<path d="M365.5 930.09L412.5 939.4" class="ln"/>
<path d="M365.5 911.46L412.5 939.4" class="ln"/>
<rect x="362.15" y="926.94" width="6.7" height="6.3" class="sq"/>
<rect x="409.15" y="936.25" width="6.7" height="6.3" class="sq"/>
<circle cx="365.5" cy="911.46" r="3.85" class="ci"/>
<circle cx="412.5" cy="939.4" r="3.85" class="ci"/>
<circle cx="459.5" cy="939.4" r="3.85" class="ci"/>
<path d="M542.1 846.25V939.4H683.1" class="ax"/>
<path d="M539.5 939.4H542.1M539.5 923.88H542.1M539.5 908.35H542.1M539.5 892.83H542.1M539.5 877.3H542.1M539.5 861.77H542.1M539.5 846.25H542.1M542.1 939.4V941.7M589.1 939.4V941.7M636.1 939.4V941.7M683.1 939.4V941.7" class="ax"/>
<text x="534.2" y="940.8" class="tl" text-anchor="end">0</text>
<text x="534.2" y="925.27" class="tl" text-anchor="end">20</text>
<text x="534.2" y="909.75" class="tl" text-anchor="end">40</text>
<text x="534.2" y="894.23" class="tl" text-anchor="end">60</text>
<text x="534.2" y="878.7" class="tl" text-anchor="end">80</text>
<text x="534.2" y="863.17" class="tl" text-anchor="end">100</text>
<text x="534.2" y="847.65" class="tl" text-anchor="end">120</text>
<text x="565.7" y="949.5" class="tl" text-anchor="middle">1/500</text>
<text x="612.7" y="949.5" class="tl" text-anchor="middle">1/100</text>
<text x="659.7" y="949.5" class="tl" text-anchor="middle">1/20</text>
<text x="585.96" y="959.5" class="xt" textLength="55.31" lengthAdjust="spacingAndGlyphs">Serum dilution</text>
<text x="517.6" y="943.81" class="yt" textLength="101.6" lengthAdjust="spacingAndGlyphs" transform="rotate(-90 517.6 943.81)">Relative Luminescence (%)</text>
<path d="M565.6 924.5V919.45M563.2 919.45H568" class="eb"/>
<path d="M565.6 932.03L612.6 939.4" class="ln"/>
<path d="M565.6 924.5L612.6 939.4" class="ln"/>
<rect x="562.25" y="928.88" width="6.7" height="6.3" class="sq"/>
<rect x="609.25" y="936.25" width="6.7" height="6.3" class="sq"/>
<circle cx="565.6" cy="924.5" r="3.85" class="ci"/>
<circle cx="612.6" cy="939.4" r="3.85" class="ci"/>
<circle cx="659.6" cy="939.4" r="3.85" class="ci"/>
<path d="M146.5 978.2V1071.4H287.5" class="ax"/>
<path d="M143.9 1071.4H146.5M143.9 1055.87H146.5M143.9 1040.33H146.5M143.9 1024.8H146.5M143.9 1009.27H146.5M143.9 993.73H146.5M143.9 978.2H146.5M146.5 1071.4V1073.7M193.5 1071.4V1073.7M240.5 1071.4V1073.7M287.5 1071.4V1073.7" class="ax"/>
<text x="138.6" y="1072.8" class="tl" text-anchor="end">0</text>
<text x="138.6" y="1057.27" class="tl" text-anchor="end">20</text>
<text x="138.6" y="1041.73" class="tl" text-anchor="end">40</text>
<text x="138.6" y="1026.2" class="tl" text-anchor="end">60</text>
<text x="138.6" y="1010.67" class="tl" text-anchor="end">80</text>
<text x="138.6" y="995.13" class="tl" text-anchor="end">100</text>
<text x="138.6" y="979.6" class="tl" text-anchor="end">120</text>
<text x="170.1" y="1081.5" class="tl" text-anchor="middle">1/500</text>
<text x="217.1" y="1081.5" class="tl" text-anchor="middle">1/100</text>
<text x="264.1" y="1081.5" class="tl" text-anchor="middle">1/20</text>
<text x="190.36" y="1091.5" class="xt" textLength="55.31" lengthAdjust="spacingAndGlyphs">Serum dilution</text>
<text x="122" y="1075.81" class="yt" textLength="101.6" lengthAdjust="spacingAndGlyphs" transform="rotate(-90 122 1075.81)">Relative Luminescence (%)</text>
<path d="M170 1071.4L217 1071.4L264 1071.4" class="ln"/>
<path d="M170 1071.4L217 1071.4L264 1071.4" class="ln"/>
<rect x="166.65" y="1068.25" width="6.7" height="6.3" class="sq"/>
<rect x="213.65" y="1068.25" width="6.7" height="6.3" class="sq"/>
<rect x="260.65" y="1068.25" width="6.7" height="6.3" class="sq"/>
<circle cx="170" cy="1071.4" r="3.85" class="ci"/>
<circle cx="217" cy="1071.4" r="3.85" class="ci"/>
<circle cx="264" cy="1071.4" r="3.85" class="ci"/>
<path d="M342.4 977.5V1071.4H483.4" class="ax"/>
<path d="M339.8 1071.4H342.4M339.8 1055.75H342.4M339.8 1040.1H342.4M339.8 1024.45H342.4M339.8 1008.8H342.4M339.8 993.15H342.4M339.8 977.5H342.4M342.4 1071.4V1073.7M389.4 1071.4V1073.7M436.4 1071.4V1073.7M483.4 1071.4V1073.7" class="ax"/>
<text x="334.5" y="1072.8" class="tl" text-anchor="end">0</text>
<text x="334.5" y="1057.15" class="tl" text-anchor="end">20</text>
<text x="334.5" y="1041.5" class="tl" text-anchor="end">40</text>
<text x="334.5" y="1025.85" class="tl" text-anchor="end">60</text>
<text x="334.5" y="1010.2" class="tl" text-anchor="end">80</text>
<text x="334.5" y="994.55" class="tl" text-anchor="end">100</text>
<text x="334.5" y="978.9" class="tl" text-anchor="end">120</text>
<text x="366" y="1081.5" class="tl" text-anchor="middle">1/500</text>
<text x="413" y="1081.5" class="tl" text-anchor="middle">1/100</text>
<text x="460" y="1081.5" class="tl" text-anchor="middle">1/20</text>
<text x="386.26" y="1091.5" class="xt" textLength="55.31" lengthAdjust="spacingAndGlyphs">Serum dilution</text>
<text x="317.9" y="1075.81" class="yt" textLength="101.6" lengthAdjust="spacingAndGlyphs" transform="rotate(-90 317.9 1075.81)">Relative Luminescence (%)</text>
<path d="M365.9 1071.4L412.9 1071.4L459.9 1071.4" class="ln"/>
<path d="M365.9 1071.4L412.9 1071.4L459.9 1071.4" class="ln"/>
<rect x="362.55" y="1068.25" width="6.7" height="6.3" class="sq"/>
<rect x="409.55" y="1068.25" width="6.7" height="6.3" class="sq"/>
<rect x="456.55" y="1068.25" width="6.7" height="6.3" class="sq"/>
<circle cx="365.9" cy="1071.4" r="3.85" class="ci"/>
<circle cx="412.9" cy="1071.4" r="3.85" class="ci"/>
<circle cx="459.9" cy="1071.4" r="3.85" class="ci"/>
<path d="M543.4 977.5V1070.6H684.4" class="ax"/>
<path d="M540.8 1070.6H543.4M540.8 1055.08H543.4M540.8 1039.57H543.4M540.8 1024.05H543.4M540.8 1008.53H543.4M540.8 993.02H543.4M540.8 977.5H543.4M543.4 1070.6V1072.9M590.4 1070.6V1072.9M637.4 1070.6V1072.9M684.4 1070.6V1072.9" class="ax"/>
<text x="535.5" y="1072" class="tl" text-anchor="end">0</text>
<text x="535.5" y="1056.48" class="tl" text-anchor="end">20</text>
<text x="535.5" y="1040.97" class="tl" text-anchor="end">40</text>
<text x="535.5" y="1025.45" class="tl" text-anchor="end">60</text>
<text x="535.5" y="1009.93" class="tl" text-anchor="end">80</text>
<text x="535.5" y="994.42" class="tl" text-anchor="end">100</text>
<text x="535.5" y="978.9" class="tl" text-anchor="end">120</text>
<text x="567" y="1080.7" class="tl" text-anchor="middle">1/500</text>
<text x="614" y="1080.7" class="tl" text-anchor="middle">1/100</text>
<text x="661" y="1080.7" class="tl" text-anchor="middle">1/20</text>
<text x="587.26" y="1090.7" class="xt" textLength="55.31" lengthAdjust="spacingAndGlyphs">Serum dilution</text>
<text x="518.9" y="1075.01" class="yt" textLength="101.6" lengthAdjust="spacingAndGlyphs" transform="rotate(-90 518.9 1075.01)">Relative Luminescence (%)</text>
<path d="M566.9 1070.6L613.9 1070.6L660.9 1070.6" class="ln"/>
<path d="M566.9 1070.6L613.9 1070.6L660.9 1070.6" class="ln"/>
<rect x="563.55" y="1067.45" width="6.7" height="6.3" class="sq"/>
<rect x="610.55" y="1067.45" width="6.7" height="6.3" class="sq"/>
<rect x="657.55" y="1067.45" width="6.7" height="6.3" class="sq"/>
<circle cx="566.9" cy="1070.6" r="3.85" class="ci"/>
<circle cx="613.9" cy="1070.6" r="3.85" class="ci"/>
<circle cx="660.9" cy="1070.6" r="3.85" class="ci"/>
</g></svg></body></html>
